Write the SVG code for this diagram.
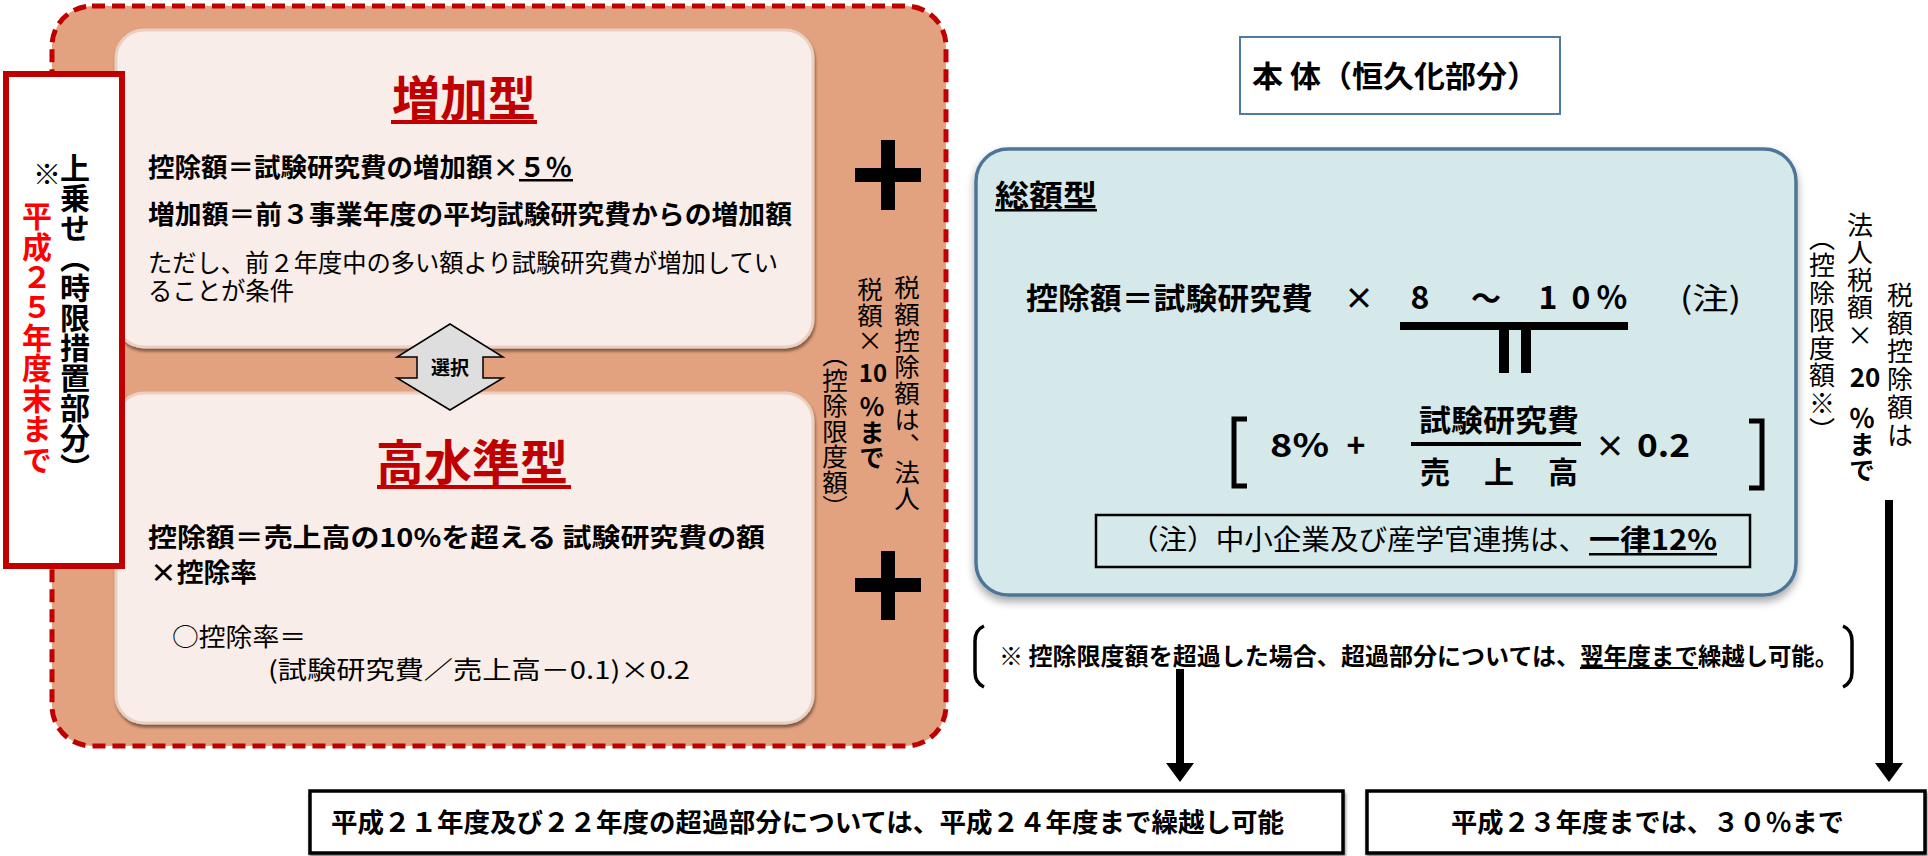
<svg xmlns="http://www.w3.org/2000/svg" width="1928" height="856" viewBox="0 0 1928 856">
<defs>
<style>
text{font-family:'Noto Sans CJK JP','Noto Sans CJK SC',sans-serif;fill:#000}
.b{font-weight:700}
.v{writing-mode:vertical-rl}
.dred{fill:#c00000}
.bred{fill:#ff0000}
.inner{fill:#f8ede8;stroke:#ebcfc0;stroke-width:3}
.ul{fill:#000}
.ulr{fill:#c00000}
.cross{fill:#000}
.conn{stroke:#000;stroke-width:8;fill:none}
.bottombox{fill:#fff;stroke:#000;stroke-width:3.5}
</style>
<filter id="sh" x="-5%" y="-5%" width="110%" height="115%">
<feDropShadow dx="0" dy="5" stdDeviation="4" flood-color="#000" flood-opacity="0.35"/>
</filter>
<filter id="sh2" x="-3%" y="-10%" width="106%" height="130%">
<feDropShadow dx="1" dy="3" stdDeviation="1.5" flood-color="#000" flood-opacity="0.45"/>
</filter>
<marker id="ah" viewBox="0 0 19 28" refX="0" refY="14" markerWidth="19" markerHeight="28" markerUnits="userSpaceOnUse" orient="auto">
<path d="M0,0 L19,14 L0,28 z" fill="#000"/>
</marker>
</defs>

<rect width="1928" height="856" fill="#fff"/>

<g id="temporary-part">
<rect x="52" y="6" width="894" height="740" rx="40" fill="#e3a27f" stroke="#c00000" stroke-width="5" stroke-dasharray="13 7"/>
</g>

<g id="zouka-type">
<rect class="inner" x="116" y="30" width="697" height="317" rx="28" filter="url(#sh2)"/>
<text class="b dred" x="464" y="116" font-size="48" text-anchor="middle">増加型</text>
<rect class="ulr" x="391" y="120" width="146" height="4"/>
<text class="b" x="148" y="177" font-size="26" textLength="424" lengthAdjust="spacingAndGlyphs">控除額＝試験研究費の増加額×５％</text>
<rect class="ul" x="519" y="179" width="54" height="2.5"/>
<text class="b" x="148" y="224" font-size="26" textLength="644" lengthAdjust="spacingAndGlyphs">増加額＝前３事業年度の平均試験研究費からの増加額</text>
<text x="148" y="272" font-size="24.5" textLength="630" lengthAdjust="spacingAndGlyphs">ただし、前２年度中の多い額より試験研究費が増加してい</text>
<text x="148" y="300" font-size="24.5" textLength="146" lengthAdjust="spacingAndGlyphs">ることが条件</text>
</g>

<g id="kousuijun-type">
<rect class="inner" x="116" y="393" width="697" height="330" rx="28" filter="url(#sh2)"/>
<text class="b dred" x="472" y="480" font-size="48" text-anchor="middle">高水準型</text>
<rect class="ulr" x="377" y="485" width="194" height="4"/>
<text class="b" x="148" y="547" font-size="26" textLength="617" lengthAdjust="spacingAndGlyphs">控除額＝売上高の10%を超える 試験研究費の額</text>
<text class="b" x="150" y="582" font-size="26" textLength="107" lengthAdjust="spacingAndGlyphs">×控除率</text>
<text x="172" y="646" font-size="24.5" textLength="134" lengthAdjust="spacingAndGlyphs">○控除率＝</text>
<text x="268" y="679" font-size="24.5" textLength="422" lengthAdjust="spacingAndGlyphs">(試験研究費／売上高－0.1)×0.2</text>
</g>

<g id="select-arrow">
<polygon points="450,324 503,357 483,357 483,378 503,378 450,410 397,378 417,378 417,357 397,357" fill="#dedede" stroke="#000" stroke-width="1.5"/>
<text class="b" x="450" y="375" font-size="19" text-anchor="middle">選択</text>
</g>

<g id="plus-upper">
<rect class="cross" x="881" y="140" width="14" height="70"/>
<rect class="cross" x="855" y="168" width="66" height="14"/>
</g>
<g id="plus-lower">
<rect class="cross" x="881" y="551" width="14" height="69"/>
<rect class="cross" x="855" y="578" width="66" height="14"/>
</g>

<g id="limit-10">
<text class="v" x="907" y="275" font-size="25.5" letter-spacing="0.8">税額控除額は、法人</text>
<text class="v" x="870" y="277" font-size="25.5">税額×</text>
<text class="b" x="873" y="382" font-size="24" text-anchor="middle">10</text>
<text class="v b" x="872" y="394" font-size="25.5">％まで</text>
<text class="v" x="835" y="342" font-size="25.5">（控除限度額）</text>
</g>

<g id="uwanose-box">
<rect x="6" y="74" width="116" height="492" fill="#fff" stroke="#c00000" stroke-width="6"/>
<text class="v b" x="75" y="153" font-size="30">上乗せ（時限措置部分）</text>
<text class="v b" x="47" y="160" font-size="28">※</text>
<text class="v b bred" x="37" y="201" font-size="30" letter-spacing="0.4">平成２５年度末まで</text>
</g>

<g id="hontai-label">
<rect x="1240" y="37" width="320" height="77" fill="#fff" stroke="#4f7ba3" stroke-width="2"/>
<text class="b" x="1252" y="87" font-size="30" textLength="286" lengthAdjust="spacingAndGlyphs">本 体（恒久化部分）</text>
</g>

<g id="sougaku-type">
<rect x="976" y="149" width="820" height="446" rx="32" fill="#d5e8ea" stroke="#4e7597" stroke-width="3.5" filter="url(#sh)"/>
<text class="b" x="995" y="206" font-size="30" textLength="102" lengthAdjust="spacingAndGlyphs">総額型</text>
<rect class="ul" x="995" y="209" width="102" height="2.5"/>
<text class="b" x="1026" y="309" font-size="30" textLength="287" lengthAdjust="spacingAndGlyphs">控除額＝試験研究費</text>
<text class="b" x="1359" y="309" font-size="30" text-anchor="middle">×</text>
<text class="b" x="1420" y="309" font-size="32" text-anchor="middle">8</text>
<text class="b" x="1486" y="309" font-size="30" text-anchor="middle">～</text>
<text class="b" x="1548" y="309" font-size="32" text-anchor="middle">1</text>
<text class="b" x="1581" y="309" font-size="32" text-anchor="middle">0</text>
<text class="b" x="1612" y="309" font-size="32" text-anchor="middle">%</text>
<text x="1680" y="309" font-size="30" textLength="61" lengthAdjust="spacingAndGlyphs">(注)</text>
<rect x="1400" y="322" width="228" height="8"/>
<rect x="1499" y="329" width="10" height="44"/>
<rect x="1521" y="329" width="10" height="44"/>
<path d="M1247,419 L1234,419 L1234,486 L1247,486" fill="none" stroke="#000" stroke-width="5"/>
<path d="M1749,421 L1762,421 L1762,488 L1749,488" fill="none" stroke="#000" stroke-width="5"/>
<text class="b" x="1270" y="457" font-size="32" textLength="59" lengthAdjust="spacingAndGlyphs">8%</text>
<text class="b" x="1356" y="457" font-size="32" text-anchor="middle">+</text>
<text class="b" x="1419" y="431" font-size="30" textLength="160" lengthAdjust="spacingAndGlyphs">試験研究費</text>
<rect x="1411" y="442" width="170" height="4"/>
<text class="b" x="1435" y="483" font-size="30" text-anchor="middle">売</text>
<text class="b" x="1499" y="483" font-size="30" text-anchor="middle">上</text>
<text class="b" x="1563" y="483" font-size="30" text-anchor="middle">高</text>
<text class="b" x="1610" y="457" font-size="30" text-anchor="middle">×</text>
<text class="b" x="1637" y="457" font-size="32" textLength="53" lengthAdjust="spacingAndGlyphs">0.2</text>
<rect x="1096" y="515" width="654" height="52" fill="none" stroke="#000" stroke-width="2.5"/>
<text x="1130" y="550" font-size="28" textLength="457" lengthAdjust="spacingAndGlyphs">（注）中小企業及び産学官連携は、</text>
<text class="b" x="1589" y="550" font-size="28" textLength="128" lengthAdjust="spacingAndGlyphs">一律12%</text>
<rect class="ul" x="1589" y="553" width="128" height="2.5"/>
</g>

<g id="limit-20">
<text class="v" x="1900" y="282" font-size="26" letter-spacing="2">税額控除額は</text>
<text class="v" x="1860" y="212" font-size="26" letter-spacing="1.5">法人税額×</text>
<text class="b" x="1865" y="387" font-size="26" text-anchor="middle">20</text>
<text class="v b" x="1862" y="405" font-size="26">％まで</text>
<text class="v" x="1822" y="225" font-size="26" letter-spacing="1.5">（控除限度額※）</text>
</g>

<g id="carryover-note">
<path d="M984,626 Q975,630 975,641 L975,672 Q975,683 984,687" fill="none" stroke="#000" stroke-width="3.5"/>
<path d="M1843,626 Q1852,630 1852,641 L1852,672 Q1852,683 1843,687" fill="none" stroke="#000" stroke-width="3.5"/>
<text class="b" x="999" y="665" font-size="23.5" textLength="581" lengthAdjust="spacingAndGlyphs">※ 控除限度額を超過した場合、超過部分については、</text>
<text class="b" x="1580" y="665" font-size="23.5" textLength="118" lengthAdjust="spacingAndGlyphs">翌年度まで</text>
<rect class="ul" x="1580" y="667" width="118" height="2"/>
<text class="b" x="1698" y="665" font-size="23.5" textLength="140" lengthAdjust="spacingAndGlyphs">繰越し可能。</text>
</g>

<g id="box-h21-22">
<rect class="bottombox" x="310" y="791" width="1033" height="62" filter="url(#sh2)"/>
<text class="b" x="331" y="832" font-size="26" textLength="953" lengthAdjust="spacingAndGlyphs">平成２１年度及び２２年度の超過部分については、平成２４年度まで繰越し可能</text>
</g>

<g id="box-h23">
<rect class="bottombox" x="1367" y="791" width="558" height="62" filter="url(#sh2)"/>
<text class="b" x="1451" y="832" font-size="26" textLength="393" lengthAdjust="spacingAndGlyphs">平成２３年度までは、３０％まで</text>
</g>

<g id="connectors">
<line class="conn" x1="1180" y1="669" x2="1180" y2="763" marker-end="url(#ah)"/>
<line class="conn" x1="1889" y1="500" x2="1889" y2="763" marker-end="url(#ah)"/>
</g>
</svg>
